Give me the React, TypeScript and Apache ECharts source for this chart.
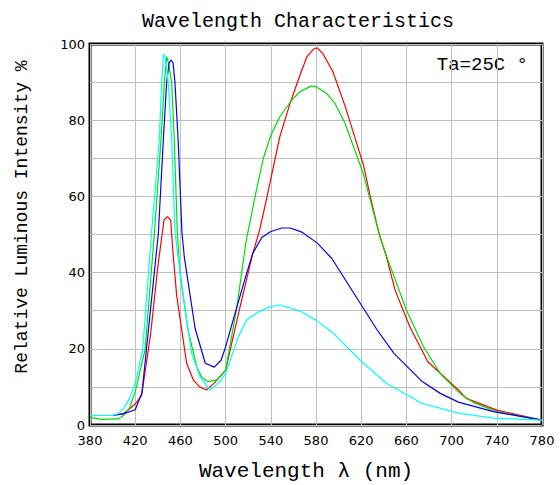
import React, { useEffect, useRef } from "react";
import * as echarts from "echarts";

const xTicks = { min: 380, max: 780, interval: 40 };
const yTicks = { min: 0, max: 100, interval: 10, labelStep: 20 };

const redData: number[][] = [
  [380, 2.5], [400, 2.5], [410, 3], [420, 5.5], [425.7, 7.8], [433.7, 24], [440, 41.5],
  [445.5, 53.8], [448.4, 54.7], [451.4, 53.8], [453.5, 45], [456.7, 34], [465.5, 16.2],
  [471.5, 11.8], [477, 10], [483, 9.2], [490, 11], [500, 14.4], [512, 30], [524, 45],
  [530, 51], [536, 59], [548, 75.7], [557, 84.4], [566, 92], [572, 96.7], [578, 98.7],
  [581, 99], [586, 97.5], [595, 92.7], [606, 83.5], [622, 68.2], [628, 60], [636, 50],
  [642, 44.5], [650, 35.4], [663, 25.8], [679, 16.6], [706, 9.2], [713, 7], [740, 3.9],
  [780, 1.3],
];

const greenData: number[][] = [
  [380, 2], [390, 1.5], [405, 1.6], [410, 2.6], [415, 4.5], [420, 8.7], [428.7, 19.7],
  [437, 50.4], [442.8, 74.8], [445.8, 89.8], [447.8, 96.7], [449.5, 95], [452.3, 89.8],
  [454.6, 74.8], [457.3, 50.4], [459.6, 40], [466.7, 25], [474.4, 15.3], [479, 12.5],
  [484, 11.4], [492, 11.8], [500, 14.4], [510, 31], [518, 48], [526, 59.9], [533.4, 70],
  [540, 76], [548, 80.9], [558.5, 85.3], [566, 87.5], [576, 89], [580, 88.8], [589.5, 87],
  [596.8, 84.4], [605.7, 79.2], [621.8, 66], [628, 59], [636.6, 49.4], [642.6, 44.2],
  [660, 30.2], [675, 20.6], [690, 13.5], [707.4, 8.3], [720, 5.8], [740, 3.5], [780, 1.2],
];

const blueData: number[][] = [
  [380, 2.5], [400, 2.5], [410, 3], [420, 4], [426, 8.5], [430, 20], [440.5, 50.4],
  [444.9, 74.8], [447.8, 89.8], [450, 95], [451.7, 95.8], [453.5, 95], [455.2, 89.8],
  [458, 74.8], [461.4, 50.4], [463.5, 44], [473, 25.4], [482, 16.2], [490, 15.2],
  [496, 17], [500, 20.5], [510, 31], [519, 40.2], [524, 45], [532, 49.2], [540, 50.8],
  [550, 51.7], [557, 51.7], [567, 50.7], [581, 47.8], [594, 43.7], [634, 25], [649, 18.8],
  [674, 11.4], [690, 8.3], [706, 6], [737, 3.5], [780, 1.3],
];

const cyanData: number[][] = [
  [380, 2.5], [400, 2.5], [405, 3], [410, 4.5], [415, 7], [420, 10.9], [426.6, 19.7],
  [434.6, 51], [441.3, 74.8], [443.4, 89.8], [445, 97.4], [446.5, 96.5], [449.3, 89.8],
  [452.3, 74.8], [455.2, 50.4], [462.6, 33.7], [470, 18.8], [477.3, 12.7], [486.2, 9.2],
  [495, 11.4], [500, 13.5], [511.3, 23.2], [518.7, 27.6], [530.4, 29.9], [539, 31],
  [548, 31.5], [566, 29.9], [580.6, 27.4], [595.4, 24.1], [619, 17], [642.6, 10.9],
  [673.5, 5.7], [706, 3.1], [737, 1.8], [780, 1.3],
];

const titleText = "Wavelength Characteristics";
const xName = "Wavelength λ (nm)";
const yName = "Relative Luminous Intensity %";
const noteText = "Ta=25C °";

export default function App() {
  const ref = useRef<HTMLDivElement>(null);
  useEffect(() => {
    if (!ref.current) return;
    const chart = echarts.init(ref.current, null, { renderer: "svg" });
    const mono = '"Liberation Mono", "DejaVu Sans Mono", monospace';
    const mk = (name: string, data: number[][], color: string) => ({
      name,
      type: "line",
      data,
      symbol: "none",
      smooth: false,
      lineStyle: { color, width: 1.2 },
      z: 3,
    });
    chart.setOption({
      animation: false,
      backgroundColor: "#ffffff",
      grid: {
        left: 90,
        right: 18,
        top: 44,
        bottom: 60,
        show: true,
        borderColor: "#000000",
        borderWidth: 3,
        backgroundColor: "transparent",
      },
      xAxis: {
        type: "value",
        min: xTicks.min,
        max: xTicks.max,
        interval: xTicks.interval,
        axisLine: { show: false },
        axisTick: { show: false },
        splitLine: { show: true, lineStyle: { color: "#c0c0c0", width: 1 } },
        axisLabel: {
          color: "#000",
          fontFamily: "DejaVu Sans",
          fontSize: 13,
          margin: 9,
        },
      },
      yAxis: {
        type: "value",
        min: yTicks.min,
        max: yTicks.max,
        interval: yTicks.interval,
        axisLine: { show: false },
        axisTick: { show: false },
        splitLine: { show: true, lineStyle: { color: "#c0c0c0", width: 1 } },
        axisLabel: {
          color: "#000",
          fontFamily: "DejaVu Sans",
          fontSize: 13,
          margin: 5,
          formatter: (v: number) => (v % yTicks.labelStep === 0 ? String(v) : ""),
        },
      },
      graphic: [
        {
          type: "text",
          x: 298,
          y: 21,
          style: {
            text: titleText,
            font: `20px ${mono}`,
            fill: "#000",
            textAlign: "center",
            textVerticalAlign: "middle",
          },
        },
        {
          type: "text",
          x: 306,
          y: 471,
          style: {
            text: xName,
            font: `21px ${mono}`,
            fill: "#000",
            textAlign: "center",
            textVerticalAlign: "middle",
          },
        },
        {
          type: "text",
          x: 22,
          y: 217,
          rotation: Math.PI / 2,
          style: {
            text: yName,
            font: `18px ${mono}`,
            fill: "#000",
            textAlign: "center",
            textVerticalAlign: "middle",
          },
        },
        {
          type: "text",
          x: 528,
          y: 65,
          style: {
            text: noteText,
            font: `19px ${mono}`,
            fill: "#000",
            textAlign: "right",
            textVerticalAlign: "middle",
          },
        },
      ],
      series: [
        mk("red", redData, "#ff0000"),
        mk("green", greenData, "#00e000"),
        mk("blue", blueData, "#0000ff"),
        mk("cyan", cyanData, "#00ffff"),
      ],
    });
    return () => chart.dispose();
  }, []);
  return (
    <div
      ref={ref}
      style={{ position: "absolute", left: 0, top: 0, width: 560, height: 485 }}
    />
  );
}
